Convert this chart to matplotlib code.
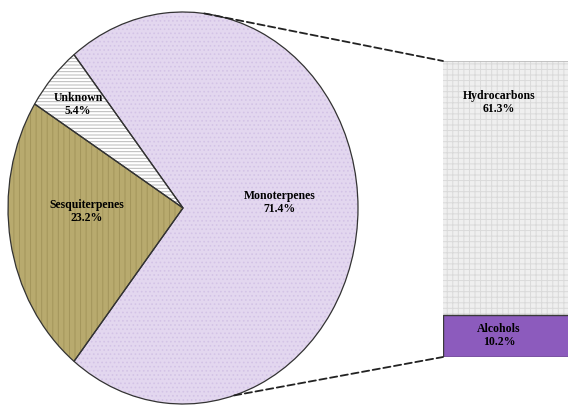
import numpy as np
import matplotlib.pyplot as plt
from matplotlib.patches import ConnectionPatch

# composition of the oil: main pie
pie_names = ['Unknown', 'Sesquiterpenes', 'Monoterpenes']
pie_values = [5.4, 23.2, 71.4]
pie_colors = ['#ffffff', '#b8aa6e', '#e3d7ef']
pie_hatch_colors = ['#b8b8b8', '#a3955b', '#d3c3e6']
pie_hatches = ['-----', '|||', '....']

# breakdown of the monoterpenes: stacked bar
bar_names = ['Alcohols', 'Hydrocarbons']
bar_values = [10.2, 61.3]
bar_colors = ['#8c5bbd', '#efefef']
bar_hatch_colors = ['#7d4eae', '#dadada']
bar_hatches = ['', '+++']

plt.rcParams['font.family'] = ['Liberation Serif', 'DejaVu Serif']
plt.rcParams['hatch.linewidth'] = 0.7

fig = plt.figure(figsize=(5.68, 4.05), dpi=100)
ax = fig.add_axes([8/568, 1/405, 350/568, 392/405])
bx = fig.add_axes([443/568, 48/405, 140/568, 296/405])

# the monoterpene wedge is centred on the right side, facing the bar
start = 180. * pie_values[2] / 100.
w1, _ = ax.pie(pie_values, colors=pie_colors, startangle=start,
               wedgeprops=dict(linewidth=0))
for w, hc, h in zip(w1, pie_hatch_colors, pie_hatches):
    w.set_hatch(h)
    w.set_edgecolor(hc)
# outlines drawn on top
w2, _ = ax.pie(pie_values, startangle=start,
               wedgeprops=dict(linewidth=0.9, edgecolor='#333333', fill=False))
ax.set_aspect('auto')
ax.set_xlim(-1, 1)
ax.set_ylim(-1, 1)
ax.axis('off')

label_pos = [(-0.6, 0.53), (-0.55, -0.02), (0.55, 0.03)]
for name, v, (x, y) in zip(pie_names, pie_values, label_pos):
    ax.text(x, y, '%s\n%.1f%%' % (name, v), ha='center', va='center',
            fontsize=8.5, fontweight='bold', linespacing=1.1)

# stacked bar
bottom = 0.
for name, v, c, hc, h in zip(bar_names, bar_values, bar_colors,
                             bar_hatch_colors, bar_hatches):
    bx.bar(0, v, width=1., bottom=bottom, color=c, edgecolor=hc,
           hatch=h, linewidth=0)
    bottom += v
bx.bar(0, bar_values[0], width=1., bottom=0, fill=False,
       edgecolor='#3a3a3a', linewidth=1.0)
bx.axhline(sum(bar_values), color='#bbbbbb', linewidth=1.2)
bx.set_xlim(-0.5, 0.5)
bx.set_ylim(0, sum(bar_values))
bx.axis('off')

bar_label_y = [bar_values[0] / 2., sum(bar_values) - 10.]
for name, v, y in zip(bar_names, bar_values, bar_label_y):
    bx.text(-0.1, y, '%s\n%.1f%%' % (name, v), ha='center', va='center',
            fontsize=8.5, fontweight='bold', linespacing=1.1)

# dashed connectors from the pie to the bar
top_ang = np.deg2rad(83.)
bot_ang = np.deg2rad(-73.)
for ang, yb in [(top_ang, sum(bar_values)), (bot_ang, 0.)]:
    con = ConnectionPatch(xyA=(np.cos(ang), np.sin(ang)), coordsA=ax.transData,
                          xyB=(-0.5, yb), coordsB=bx.transData,
                          color='#222222', linewidth=1.3, linestyle=(0, (4, 2)))
    fig.add_artist(con)

fig.savefig('out.png', dpi=100)
